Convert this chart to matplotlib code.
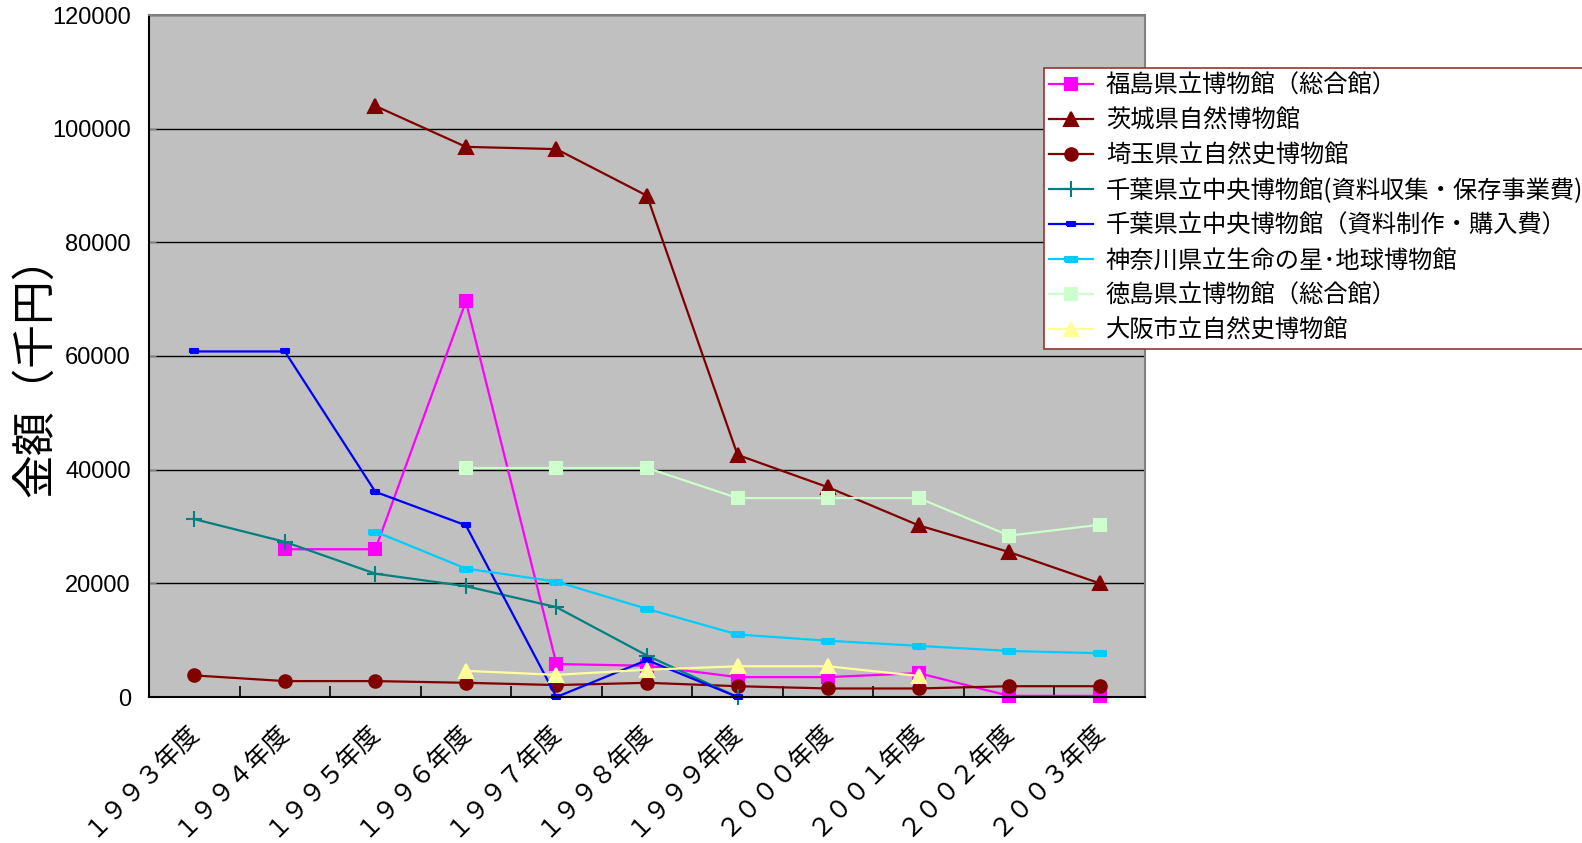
import numpy as np
import matplotlib
matplotlib.use("Agg")
import matplotlib.pyplot as plt
from matplotlib import font_manager

nan = np.nan

years = ["１９９３年度", "１９９４年度", "１９９５年度", "１９９６年度", "１９９７年度", "１９９８年度",
         "１９９９年度", "２０００年度", "２００１年度", "２００２年度", "２００３年度"]

fukushima = [nan, 26000, 26000, 69600, 5800, 5500, 3500, 3500, 4200, 200, 200]
ibaraki = [nan, nan, 104000, 96800, 96400, 88200, 42600, 36900, 30200, 25500, 20000]
saitama = [3800, 2800, 2800, 2500, 2100, 2500, 1900, 1500, 1500, 1900, 1900]
chiba_shushu = [31300, 27300, 21700, 19500, 15800, 7300, 0, nan, nan, nan, nan]
chiba_seisaku = [60800, 60800, 36100, 30200, 0, 6500, 0, nan, nan, nan, nan]
kanagawa = [nan, nan, 29100, 22600, 20300, 15500, 11000, 9900, 9000, 8100, 7700]
tokushima = [nan, nan, nan, 40300, 40300, 40300, 35000, 35000, 35000, 28400, 30300]
osaka = [nan, nan, nan, 4600, 3900, 4800, 5400, 5400, 3700, nan, nan]

names = ["福島県立博物館（総合館）", "茨城県自然博物館", "埼玉県立自然史博物館",
         "千葉県立中央博物館(資料収集・保存事業費)", "千葉県立中央博物館（資料制作・購入費）",
         "神奈川県立生命の星･地球博物館", "徳島県立博物館（総合館）", "大阪市立自然史博物館"]

jp = ["Noto Sans CJK JP", "DejaVu Sans"]
installed = {f.name for f in font_manager.fontManager.ttflist}
numfont = "Liberation Sans Narrow" if "Liberation Sans Narrow" in installed else "Liberation Sans"
plt.rcParams["font.family"] = jp

fig = plt.figure(figsize=(15.82, 8.43), dpi=100)
ax = fig.add_axes([149 / 1582, 1 - 697 / 843, 996 / 1582, 682 / 843])
ax.set_facecolor("#C0C0C0")

x = np.arange(len(years))
bar = [(-1, -0.45), (1, -0.45), (1, 0.45), (-1, 0.45), (-1, -0.45)]

series = [
    (fukushima, "#FF00FF", "s", 9),
    (ibaraki, "#800000", "^", 10),
    (saitama, "#800000", "o", 9),
    (chiba_shushu, "#008080", "+", 11),
    (chiba_seisaku, "#0000FF", bar, 6),
    (kanagawa, "#00CCFF", bar, 8),
    (tokushima, "#CCFFCC", "s", 9),
    (osaka, "#FFFF99", "^", 10),
]
for (vals, col, mk, ms), nm in zip(series, names):
    ax.plot(x, vals, color=col, lw=1.6, marker=mk, markersize=ms,
            markeredgecolor=col, markerfacecolor=col, mew=1.5, label=nm, clip_on=False)

ax.set_xlim(-0.5, len(years) - 0.5)
ax.set_ylim(0, 120000)
ax.set_yticks(np.arange(0, 120001, 20000))
ax.yaxis.grid(True, color="black", lw=1)
ax.set_axisbelow(True)
ax.tick_params(axis="y", direction="in", length=5, color="#808080", pad=13, labelsize=17)
for lab in ax.get_yticklabels():
    lab.set_family(numfont)

ax.set_xticks(x)
ax.set_xticklabels(years, fontsize=18)
ax.set_xticks(np.arange(0.5, len(years) - 1, 1), minor=True)
ax.tick_params(axis="x", which="major", length=0, pad=21)
ax.tick_params(axis="x", which="minor", direction="in", length=8, color="black", width=1.2)
plt.setp(ax.get_xticklabels(), rotation=45, ha="right", va="center", rotation_mode="anchor")

for s in ["left", "bottom"]:
    ax.spines[s].set_color("black")
    ax.spines[s].set_linewidth(1.5)
for s in ["top", "right"]:
    ax.spines[s].set_color("#808080")
    ax.spines[s].set_linewidth(1.5)

fig.text(35 / 1582, 1 - 366 / 843, "金額（千円）", rotation=90, fontsize=31.5,
         ha="center", va="center")

leg = fig.legend(loc="upper left", bbox_to_anchor=(1044 / 1582, 1 - 68 / 843),
                 fontsize=17.5, handlelength=1.8, handletextpad=0.55, labelspacing=0.37,
                 borderpad=0.2, borderaxespad=0, fancybox=False, framealpha=1,
                 edgecolor="#993333")
leg.get_frame().set_linewidth(1.2)

fig.savefig("out.png", dpi=100)
